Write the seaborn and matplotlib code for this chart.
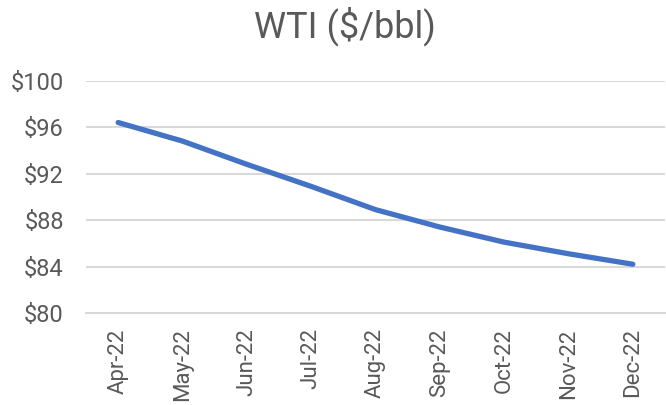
import matplotlib
matplotlib.use("Agg")
import matplotlib.pyplot as plt
import seaborn as sns
import pandas as pd
import numpy as np

months = ["Apr-22", "May-22", "Jun-22", "Jul-22", "Aug-22", "Sep-22", "Oct-22", "Nov-22", "Dec-22"]
wti = [96.4, 94.8, 92.8, 90.9, 88.9, 87.4, 86.1, 85.1, 84.2]
y_ticks = [80, 84, 88, 92, 96, 100]
title = "WTI ($/bbl)"

sns.set_theme(style="white")
plt.rcParams['font.family'] = ['Roboto', 'DejaVu Sans']

df = pd.DataFrame({"month": months, "wti": wti})

fig = plt.figure(figsize=(6.66, 4.05), dpi=100)
ax = fig.add_axes([86/666, 1-313/405, 579/666, (313-80.7)/405])

grid_c = "#d9d9d9"
text_c = "#595959"

ax.set_ylim(80, 100)
ax.set_yticks(y_ticks)
ax.set_yticklabels([f"${v}" for v in y_ticks], fontsize=17, color=text_c)
for v in y_ticks[1:]:
    ax.axhline(v, color=grid_c, lw=1.5, zorder=0)

sns.lineplot(data=df, x="month", y="wti", ax=ax, color="#4472C4", lw=3.8,
             sort=False, solid_capstyle="round", zorder=3)

ax.set_xlim(-0.5, len(months) - 0.5)
ax.set_xticks(range(len(months)))
ax.set_xticklabels(months, rotation=90, fontsize=16, color=text_c)
ax.set_xticks(np.arange(-0.5, len(months), 1.0), minor=True)
ax.tick_params(axis="x", which="major", length=0, pad=11)
ax.tick_params(axis="x", which="minor", length=7, width=1.5, color=grid_c, direction="out")
ax.tick_params(axis="y", length=0, pad=16)

for s in ["top", "right", "left"]:
    ax.spines[s].set_visible(False)
ax.spines["bottom"].set_color(grid_c)
ax.spines["bottom"].set_linewidth(1.5)
ax.set_xlabel("")
ax.set_ylabel("")

fig.text(345/666, 1-37/405, title, ha="center", va="baseline", fontsize=26, color=text_c)

fig.savefig("out.png", dpi=100, facecolor="white")
